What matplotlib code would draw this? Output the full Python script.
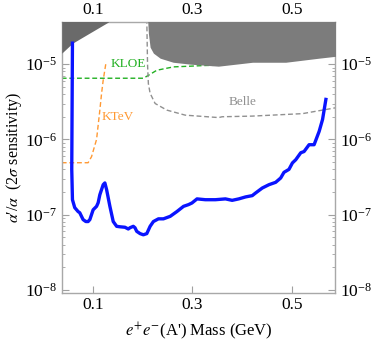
import numpy as np
import matplotlib.pyplot as plt
from matplotlib.ticker import FixedLocator, LogLocator, NullFormatter

plt.rcParams['font.family'] = ['Liberation Serif', 'DejaVu Serif']
plt.rcParams['mathtext.fontset'] = 'stix'

# projected sensitivity (blue curve)
mass = [0.059, 0.0576, 0.059, 0.0636, 0.0703, 0.0737, 0.0804, 0.0859, 0.0905, 0.094,
        0.1006, 0.1075, 0.1107, 0.1141, 0.1208, 0.1242, 0.1277, 0.1343, 0.141, 0.1479,
        0.1545, 0.1646, 0.1713, 0.1747, 0.1814, 0.1848, 0.1883, 0.195, 0.2016, 0.2085,
        0.2152, 0.2218, 0.2319, 0.242, 0.2556, 0.2691, 0.2824, 0.2925, 0.2994, 0.3095,
        0.3263, 0.3465, 0.3667, 0.3802, 0.3935, 0.4071, 0.4206, 0.4273, 0.4408, 0.4541,
        0.4677, 0.4778, 0.4844, 0.4945, 0.5014, 0.5081, 0.5182, 0.5248, 0.5349, 0.545,
        0.5552, 0.562, 0.5687]
sens = [1.9e-5, 4.0e-7, 1.58e-7, 1.24e-7, 1.1e-7, 1.06e-7, 8.6e-8, 8.1e-8, 8.1e-8, 8.6e-8,
        1.16e-7, 1.29e-7, 1.44e-7, 1.84e-7, 2.5e-7, 2.64e-7, 2.15e-7, 1.29e-7, 8.1e-8, 7.0e-8,
        6.9e-8, 6.8e-8, 6.45e-8, 6.7e-8, 7.0e-8, 6.7e-8, 6.0e-8, 5.6e-8, 5.4e-8, 5.6e-8,
        7.0e-8, 8.1e-8, 8.8e-8, 8.8e-8, 9.5e-8, 1.1e-7, 1.29e-7, 1.36e-7, 1.43e-7, 1.62e-7,
        1.58e-7, 1.58e-7, 1.62e-7, 1.55e-7, 1.62e-7, 1.72e-7, 1.79e-7, 1.94e-7, 2.26e-7, 2.5e-7,
        2.69e-7, 3.07e-7, 3.65e-7, 4.0e-7, 4.87e-7, 5.37e-7, 6.65e-7, 6.9e-7, 8.5e-7, 8.5e-7,
        1.28e-6, 1.84e-6, 3.4e-6]

# existing limits
kloe_m = [0.0374, 0.2017, 0.2117, 0.2287, 0.2622, 0.296, 0.3263, 0.36]
kloe_v = [6.5e-6, 6.5e-6, 7.1e-6, 8.3e-6, 9.2e-6, 9.4e-6, 9.6e-6, 9.7e-6]

ktev_m = [0.0374, 0.0905, 0.0974, 0.1075, 0.1141, 0.1176, 0.1208, 0.1263]
ktev_v = [4.9e-7, 4.9e-7, 5.9e-7, 1.0e-6, 2.45e-6, 4.1e-6, 6.1e-6, 1.03e-5]

belle_m = [0.2085, 0.2100, 0.2117, 0.2152, 0.2253, 0.2489, 0.2859, 0.3531, 0.36, 0.4206, 0.5216, 0.5923]
belle_v = [4.0e-5, 1.0e-5, 5.5e-6, 4.1e-6, 3.0e-6, 2.45e-6, 2.1e-6, 1.95e-6, 2.0e-6, 2.04e-6, 2.2e-6, 2.66e-6]

# excluded regions (lower edge)
excl1_m = [0.0374, 0.059, 0.1303, 0.14]
excl1_v = [1.4e-5, 1.9e-5, 3.6e-5, 4.2e-5]
excl2_m = [0.2095, 0.2105, 0.2117, 0.2152, 0.2218, 0.2354, 0.2616, 0.296, 0.3525,
           0.4212, 0.4879, 0.5545, 0.592]
excl2_v = [5.0e-5, 3.6e-5, 2.58e-5, 1.68e-5, 1.4e-5, 1.2e-5, 1.06e-5, 1.0e-5, 0.94e-5,
           1.06e-5, 1.06e-5, 1.2e-5, 1.28e-5]

fig = plt.figure(figsize=(3.74, 3.43), dpi=100)
ax = fig.add_axes([0.1658, 0.1458, 0.7312, 0.7892])

ax.fill_between(excl1_m, excl1_v, 1e-3, color='#6a6a6a', lw=0, zorder=3)
ax.fill_between(excl2_m, excl2_v, 1e-3, color='#7c7c7c', lw=0, zorder=3)

ax.plot(kloe_m, kloe_v, color='#22b022', ls=(0, (3.5, 2)), lw=1.0, zorder=2)
ax.plot(ktev_m, ktev_v, color='#ff9933', ls=(0, (3.5, 2)), lw=1.0, zorder=2)
ax.plot(belle_m, belle_v, color='#909090', ls=(0, (3.5, 2)), lw=1.0, zorder=2)
ax.plot(mass, sens, color='#0a14ff', lw=2.4, zorder=4, solid_joinstyle='round')

ax.text(0.171, 1.0e-5, 'KLOE', color='#22b022', fontsize=9.5, ha='center', va='center')
ax.text(0.1505, 2.0e-6, 'KTeV', color='#ff9933', fontsize=9.5, ha='center', va='center')
ax.text(0.4004, 3.1e-6, 'Belle', color='#909090', fontsize=9.5, ha='center', va='center')

ax.set_yscale('log')
ax.set_xlim(0.038, 0.588)
ax.set_ylim(9.1e-9, 3.6e-5)

ax.xaxis.set_major_locator(FixedLocator([0.1, 0.3, 0.5]))
ax.yaxis.set_major_locator(LogLocator(base=10, numticks=10))
ax.yaxis.set_minor_locator(LogLocator(base=10, subs=np.arange(2, 10), numticks=10))
ax.yaxis.set_minor_formatter(NullFormatter())
ax.tick_params(which='both', direction='in', top=True, right=True,
               labeltop=True, labelright=True, color='#a0a0a0', labelsize=12.5)
ax.tick_params(which='major', length=5, width=0.8)
ax.tick_params(which='minor', length=2.5, width=0.6)
ax.xaxis.set_tick_params(pad=3)
for s in ax.spines.values():
    s.set_color('#a8a8a8')
    s.set_linewidth(1.0)

ax.set_xlabel(r"$e^{+}e^{-}$(A') Mass (GeV)", fontsize=12, labelpad=5)
ax.set_ylabel("$\\alpha$\u2032/$\\alpha$  (2$\\sigma$ sensitivity)", fontsize=11.5, labelpad=1)

fig.savefig('out.png', dpi=100)
